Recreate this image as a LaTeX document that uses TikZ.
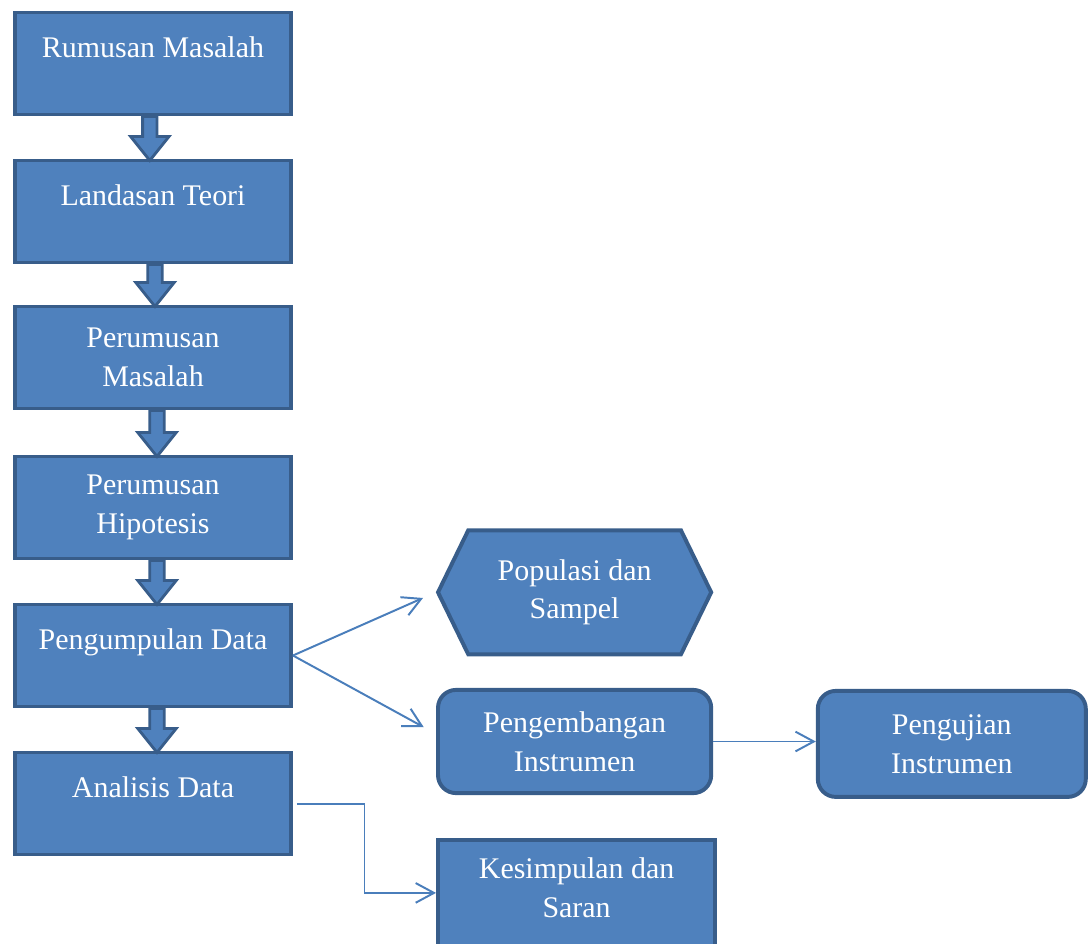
\documentclass[tikz,border=0pt]{standalone}
\usepackage{fontspec}
\setmainfont{Liberation Serif}
\usetikzlibrary{arrows.meta, positioning, shapes.symbols, calc}
\definecolor{boxfill}{HTML}{4F81BD}
\definecolor{boxline}{HTML}{385D8A}
\definecolor{linkline}{HTML}{4A7EBB}

\begin{document}
\begin{tikzpicture}[node distance=3.7cm,on grid,>={Straight Barb[length=13pt,width=14pt]},
      every node/.style={text=white,font=\fontsize{21.3}{27.7}\selectfont,align=center},
      box/.style={draw=boxline,fill=boxfill,line width=2.8pt,minimum width=6.9cm,minimum height=2.55cm,inner sep=2pt},
      oneline/.style={text height=15pt,text depth=23.5pt},
      rbox/.style={box,rounded corners=0.45cm},
      hexa/.style={box,shape=signal,signal to=east and west,signal pointer angle=128,minimum width=6.83cm,minimum height=3.1cm},
      blockarr/.style={draw=boxline,fill=boxfill,line width=2pt,line join=miter},
      link/.style={draw=linkline,line width=1.4pt,->}]
      \useasboundingbox (-3.825,1.5875) rectangle (23.375,-21.9875);
      \node[box,oneline] (rm) {Rumusan Masalah};
      \node[box,oneline] (lt) [below=of rm] {Landasan Teori};
      \node[box] (pm) [below=of lt,yshift=0.05cm] {Perumusan\\Masalah};
      \node[box] (ph) [below=of pm,yshift=-0.05cm] {Perumusan\\Hipotesis};
      \node[box,oneline] (pd) [below=of ph] {Pengumpulan Data};
      \node[box,oneline] (ad) [below=of pd] {Analisis Data};
      \node[rbox,minimum width=6.83cm,minimum height=2.58cm] (pe) [below right=2.15cm and 10.54cm of pd] {Pengembangan\\Instrumen};
      \node[hexa] (pop) [above=of pe,yshift=0.03cm] {Populasi dan\\Sampel};
      \node[rbox,minimum width=6.7cm,minimum height=2.65cm] (pu) [right=9.43cm of pe,yshift=-0.06cm] {Pengujian\\Instrumen};
      \node[box,minimum width=6.93cm,minimum height=2.8cm,text height=42.2pt,text depth=11pt] (ks)
        [below=of pe,xshift=0.05cm,yshift=-0.16cm] {Kesimpulan dan\\Saran};
      \foreach \a/\b/\s in {rm/lt/-0.08, lt/pm/0.05, pm/ph/0.1, ph/pd/0.1, pd/ad/0.1}
        \draw[blockarr] ($(\a.south)+(\s-0.18,0)$) -- ($(\a.south)+(\s+0.18,0)$)
          -- ($(\b.north)+(\s+0.18,0.55)$) -- ($(\b.north)+(\s+0.48,0.55)$)
          -- ($(\b.north)+(\s,-0.05)$) -- ($(\b.north)+(\s-0.48,0.55)$)
          -- ($(\b.north)+(\s-0.18,0.55)$) -- cycle;
      \draw[link,shorten >=0.35cm] (pd.east) -- (pop.west);
      \draw[link,shorten >=0.35cm] (pd.east) -- ([yshift=0.19cm]pe.west);
      \draw[link] (pe.east) -- (pe.east -| pu.west);
      \draw[link,shorten <=0.1cm] (ad.east) -| ($(ad.east)!0.5!(ks.west)$) |- ([yshift=0.075cm]ks.west);
    \end{tikzpicture}
\end{document}
